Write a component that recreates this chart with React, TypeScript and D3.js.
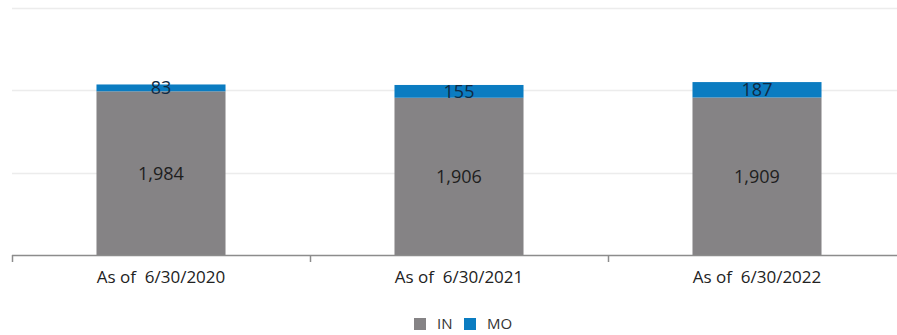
import { useEffect, useRef } from 'react';
import * as d3 from 'd3';

const categories = ['As of  6/30/2020', 'As of  6/30/2021', 'As of  6/30/2022'];
const inValues = [1984, 1906, 1909];
const moValues = [83, 155, 187];
const yTicks = [0, 1000, 2000, 3000];
const seriesNames = ['IN', 'MO'];
const seriesColors = ['#858385', '#0b7cc1'];

const WIDTH = 897;
const HEIGHT = 335;
const FONT = '"Open Sans", "DejaVu Sans", sans-serif';

export default function App() {
  const svgRef = useRef<SVGSVGElement>(null);

  useEffect(() => {
    if (!svgRef.current) return;
    const svg = d3.select(svgRef.current);
    svg.selectAll('*').remove();

    const margin = { left: 12, right: -9, top: 7, bottom: 80 };
    const plotBottom = HEIGHT - margin.bottom;

    const x = d3.scaleBand<string>()
      .domain(categories)
      .range([margin.left, WIDTH - margin.right])
      .padding(0);
    const barWidth = x.bandwidth() * 0.433;

    const y = d3.scaleLinear()
      .domain([0, 3000])
      .range([plotBottom, 7.5]);

    // gridlines
    svg.append('g')
      .selectAll('line')
      .data(yTicks.filter(t => t > 0))
      .join('line')
      .attr('x1', margin.left)
      .attr('x2', WIDTH)
      .attr('y1', d => Math.round(y(d)) + 0.5)
      .attr('y2', d => Math.round(y(d)) + 0.5)
      .attr('stroke', '#ececec')
      .attr('stroke-width', 1.5);

    const stacked = d3.stack<number>()
      .keys(['0', '1'])
      .value((i, key) => (key === '0' ? inValues[i] : moValues[i]))(d3.range(categories.length));

    stacked.forEach((layer, si) => {
      svg.append('g')
        .selectAll('rect')
        .data(layer)
        .join('rect')
        .attr('x', (_, i) => x(categories[i])! + (x.bandwidth() - barWidth) / 2)
        .attr('width', barWidth)
        .attr('y', d => y(d[1]))
        .attr('height', d => y(d[0]) - y(d[1]))
        .attr('fill', seriesColors[si]);

      svg.append('g')
        .selectAll('text')
        .data(layer)
        .join('text')
        .attr('x', (_, i) => x(categories[i])! + x.bandwidth() / 2)
        .attr('y', d => (y(d[0]) + y(d[1])) / 2)
        .attr('dy', '0.36em')
        .attr('text-anchor', 'middle')
        .attr('font-family', FONT)
        .attr('font-size', 18)
        .attr('fill', si === 0 ? '#1e1e1e' : '#0f2a44')
        .text(d => d3.format(',')(d[1] - d[0]));
    });

    // x axis
    const axis = svg.append('g');
    axis.append('line')
      .attr('x1', margin.left)
      .attr('x2', WIDTH)
      .attr('y1', plotBottom + 0.5)
      .attr('y2', plotBottom + 0.5)
      .attr('stroke', '#8c8c8c')
      .attr('stroke-width', 1.5);
    const boundaries = categories.map(c => x(c)!);
    axis.selectAll('line.tick')
      .data(boundaries)
      .join('line')
      .attr('class', 'tick')
      .attr('x1', d => Math.round(d) + 0.5)
      .attr('x2', d => Math.round(d) + 0.5)
      .attr('y1', plotBottom)
      .attr('y2', plotBottom + 7)
      .attr('stroke', '#8c8c8c')
      .attr('stroke-width', 1.5);
    axis.selectAll('text')
      .data(categories)
      .join('text')
      .attr('x', d => x(d)! + x.bandwidth() / 2)
      .attr('y', plotBottom + 28)
      .attr('text-anchor', 'middle')
      .attr('font-family', FONT)
      .attr('font-size', 17)
      .attr('fill', '#222')
      .style('white-space', 'pre')
      .text(d => d);

    // legend
    const legend = svg.append('g').attr('transform', 'translate(414,318)');
    const offsets = [0, 50];
    seriesNames.forEach((name, i) => {
      const item = legend.append('g').attr('transform', `translate(${offsets[i]},0)`);
      item.append('rect')
        .attr('width', 12)
        .attr('height', 12)
        .attr('fill', seriesColors[i]);
      item.append('text')
        .attr('x', 23)
        .attr('y', 6)
        .attr('dy', '0.36em')
        .attr('font-family', FONT)
        .attr('font-size', 15)
        .attr('fill', '#333')
        .text(name);
    });
  }, []);

  return (
    <svg
      ref={svgRef}
      width={WIDTH}
      height={HEIGHT}
      style={{ position: 'absolute', left: 0, top: 0, background: '#fff' }}
    />
  );
}
